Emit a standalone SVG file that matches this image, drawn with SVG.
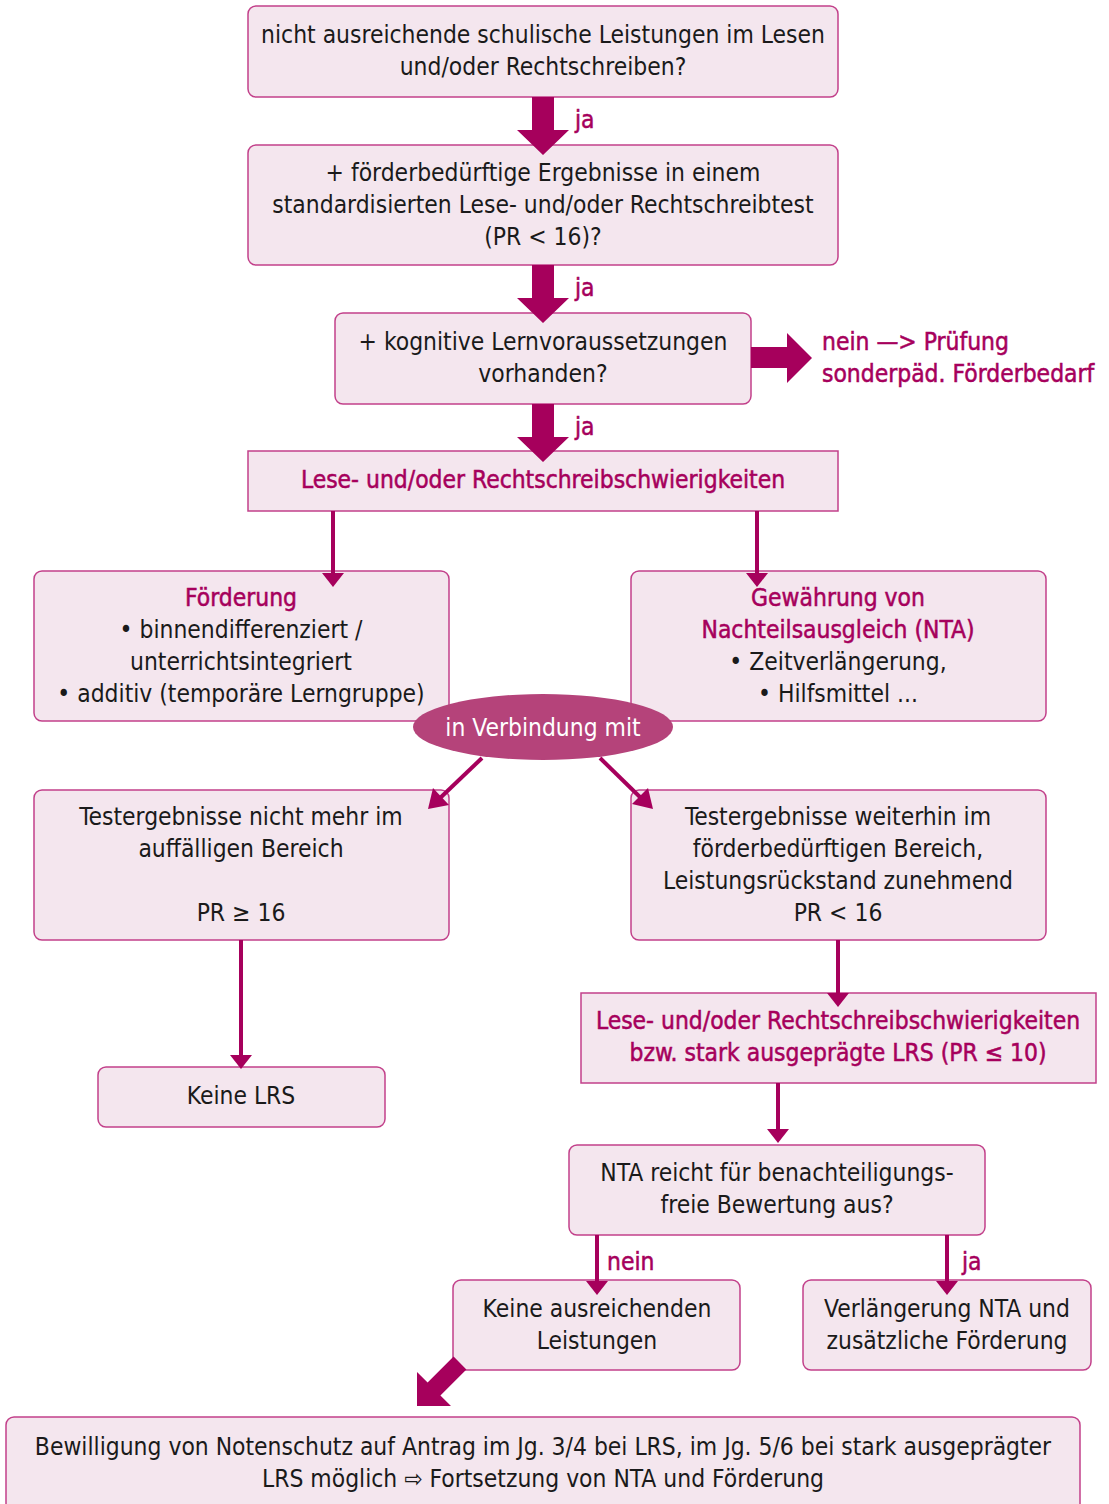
<svg xmlns="http://www.w3.org/2000/svg" width="1109" height="1504" viewBox="0 0 1109 1504">
<style>
.box{fill:#F4E6EE;stroke:#C2408A;stroke-width:1.5}
.t{font-family:"DejaVu Sans Condensed","Liberation Sans Narrow","Liberation Sans",sans-serif;font-size:24.4px;fill:#1a1a1a;text-anchor:middle}
.m{fill:#A6005C;stroke:#A6005C;stroke-width:0.5}
.l{text-anchor:start}
.thick{fill:#A6005C}
.thin{stroke:#A6005C;stroke-width:4;fill:none}
</style>
<defs>
<polygon id="headdown" points="-11,0 11,0 0,14" fill="#A6005C"/>
</defs>
<rect width="1109" height="1504" fill="#fff"/>

<g id="n1"><rect class="box" x="248" y="6" width="590" height="91" rx="8"/>
<text class="t" x="543" y="43">nicht ausreichende schulische Leistungen im Lesen</text>
<text class="t" x="543" y="75">und/oder Rechtschreiben?</text></g>

<g id="n2"><rect class="box" x="248" y="145" width="590" height="120" rx="8"/>
<text class="t" x="543" y="181">+ förderbedürftige Ergebnisse in einem</text>
<text class="t" x="543" y="213">standardisierten Lese- und/oder Rechtschreibtest</text>
<text class="t" x="543" y="245">(PR &lt; 16)?</text></g>

<g id="n3"><rect class="box" x="335" y="313" width="416" height="91" rx="8"/>
<text class="t" x="543" y="350">+ kognitive Lernvoraussetzungen</text>
<text class="t" x="543" y="382">vorhanden?</text></g>

<g id="n3b"><text class="t m l" x="822" y="350">nein —&gt; Prüfung</text>
<text class="t m l" x="822" y="382">sonderpäd. Förderbedarf</text></g>

<g id="n4"><rect class="box" x="248" y="451" width="590" height="60"/>
<text class="t m" x="543" y="488">Lese- und/oder Rechtschreibschwierigkeiten</text></g>

<g id="n5"><rect class="box" x="34" y="571" width="415" height="150" rx="8"/>
<text class="t m" x="241" y="606">Förderung</text>
<text class="t" x="241" y="638">• binnendifferenziert /</text>
<text class="t" x="241" y="670">unterrichtsintegriert</text>
<text class="t" x="241" y="702">• additiv (temporäre Lerngruppe)</text></g>

<g id="n6"><rect class="box" x="631" y="571" width="415" height="150" rx="8"/>
<text class="t m" x="838" y="606">Gewährung von</text>
<text class="t m" x="838" y="638">Nachteilsausgleich (NTA)</text>
<text class="t" x="838" y="670">• Zeitverlängerung,</text>
<text class="t" x="838" y="702">• Hilfsmittel ...</text></g>

<g id="n7"><rect class="box" x="34" y="790" width="415" height="150" rx="8"/>
<text class="t" x="241" y="825">Testergebnisse nicht mehr im</text>
<text class="t" x="241" y="857">auffälligen Bereich</text>
<text class="t" x="241" y="921">PR ≥ 16</text></g>

<g id="n8"><rect class="box" x="631" y="790" width="415" height="150" rx="8"/>
<text class="t" x="838" y="825">Testergebnisse weiterhin im</text>
<text class="t" x="838" y="857">förderbedürftigen Bereich,</text>
<text class="t" x="838" y="889">Leistungsrückstand zunehmend</text>
<text class="t" x="838" y="921">PR &lt; 16</text></g>

<g id="n9"><rect class="box" x="98" y="1067" width="287" height="60" rx="8"/>
<text class="t" x="241" y="1104">Keine LRS</text></g>

<g id="n10"><rect class="box" x="581" y="993" width="515" height="90"/>
<text class="t m" x="838" y="1029">Lese- und/oder Rechtschreibschwierigkeiten</text>
<text class="t m" x="838" y="1061">bzw. stark ausgeprägte LRS (PR ≤ 10)</text></g>

<g id="n11"><rect class="box" x="569" y="1145" width="416" height="90" rx="8"/>
<text class="t" x="777" y="1181">NTA reicht für benachteiligungs-</text>
<text class="t" x="777" y="1213">freie Bewertung aus?</text></g>

<g id="n12"><rect class="box" x="453" y="1280" width="287" height="90" rx="8"/>
<text class="t" x="597" y="1317">Keine ausreichenden</text>
<text class="t" x="597" y="1349">Leistungen</text></g>

<g id="n13"><rect class="box" x="803" y="1280" width="288" height="90" rx="8"/>
<text class="t" x="947" y="1317">Verlängerung NTA und</text>
<text class="t" x="947" y="1349">zusätzliche Förderung</text></g>

<g id="n14"><rect class="box" x="6" y="1417" width="1074" height="100" rx="8"/>
<text class="t" x="543" y="1455">Bewilligung von Notenschutz auf Antrag im Jg. 3/4 bei LRS, im Jg. 5/6 bei stark ausgeprägter</text>
<text class="t" x="543" y="1487">LRS möglich ⇨ Fortsetzung von NTA und Förderung</text></g>

<g id="n15"><ellipse cx="543" cy="727" rx="130" ry="33" fill="#B5437A"/>
<text class="t" x="543" y="736" style="fill:#fff">in Verbindung mit</text></g>

<g id="connectors">
<polygon class="thick" points="532,97 554,97 554,130 569,130 543,155 517,130 532,130"/>
<polygon class="thick" points="532,265 554,265 554,298 569,298 543,323 517,298 532,298"/>
<polygon class="thick" points="532,404 554,404 554,437 569,437 543,462 517,437 532,437"/>
<polygon class="thick" points="751,347 787,347 787,333 812,358 787,383 787,368 751,368"/>
<polygon class="thick" points="453.6,1356.6 427.6,1382.6 417,1372 417,1406 451,1406 440.4,1395.4 466.4,1369.4"/>
<line class="thin" x1="333" y1="511" x2="333" y2="574"/><use href="#headdown" x="333" y="573"/>
<line class="thin" x1="757" y1="511" x2="757" y2="574"/><use href="#headdown" x="757" y="573"/>
<line class="thin" x1="241" y1="940" x2="241" y2="1056"/><use href="#headdown" x="241" y="1055"/>
<line class="thin" x1="838" y1="940" x2="838" y2="994"/><use href="#headdown" x="838" y="993"/>
<line class="thin" x1="778" y1="1083" x2="778" y2="1130"/><use href="#headdown" x="778" y="1129"/>
<line class="thin" x1="597" y1="1235" x2="597" y2="1282"/><use href="#headdown" x="597" y="1281"/>
<line class="thin" x1="947" y1="1235" x2="947" y2="1282"/><use href="#headdown" x="947" y="1281"/>
<line class="thin" x1="482" y1="758" x2="438" y2="800"/>
<polygon class="thick" points="428,809 433,788 449,805"/>
<line class="thin" x1="600" y1="758" x2="643" y2="800"/>
<polygon class="thick" points="653,809 632,804 648,788"/>
<text class="t m l" x="575" y="128">ja</text>
<text class="t m l" x="575" y="296">ja</text>
<text class="t m l" x="575" y="435">ja</text>
<text class="t m l" x="607" y="1270">nein</text>
<text class="t m l" x="962" y="1270">ja</text>
</g>
</svg>
